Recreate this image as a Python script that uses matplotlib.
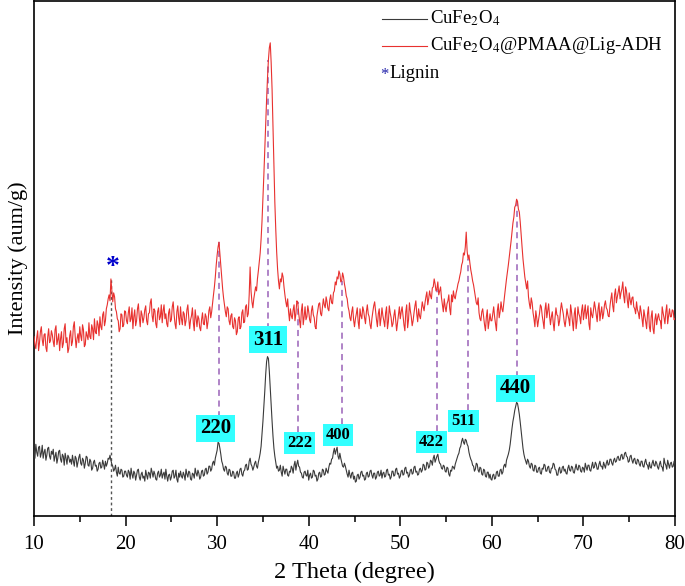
import numpy as np
import matplotlib
matplotlib.use('Agg')
import matplotlib.pyplot as plt

#--------------------------------------------------------------------------------------------------
# XRD patterns (2 theta from 10 to 80 in 0.1 degree steps, intensity in a.u.)
cufe2o4 = [
    66, 58, 72, 64, 60, 69, 70, 59, 63, 71, 58, 64, 67, 56, 61, 68, 69, 60, 57, 65,
    62, 67, 55, 60, 64, 53, 58, 65, 66, 57, 54, 62, 60, 51, 63, 58, 52, 61, 59, 54,
    57, 52, 61, 55, 50, 60, 58, 49, 54, 59, 62, 53, 51, 58, 56, 48, 53, 60, 59, 51,
    50, 57, 55, 46, 48, 54, 56, 50, 51, 45, 47, 53, 54, 48, 49, 56, 52, 47, 55, 50,
    53, 58, 57, 61, 56, 52, 50, 45, 47, 51, 44, 40, 49, 43, 42, 47, 46, 39, 40, 45,
    45, 41, 39, 46, 44, 37, 48, 42, 38, 45, 43, 36, 41, 46, 47, 39, 36, 42, 44, 38,
    40, 35, 46, 41, 37, 44, 43, 38, 48, 44, 39, 45, 42, 37, 36, 43, 45, 39, 41, 47,
    38, 42, 44, 37, 47, 40, 35, 41, 42, 36, 39, 45, 46, 38, 40, 46, 37, 34, 43, 39,
    45, 40, 38, 44, 41, 36, 47, 42, 39, 45, 44, 37, 36, 43, 42, 38, 48, 43, 40, 46,
    43, 37, 39, 45, 46, 40, 41, 47, 48, 42, 44, 50, 50, 45, 47, 53, 55, 51, 58, 62,
    66, 74, 73, 68, 62, 55, 52, 47, 45, 50, 49, 43, 41, 47, 46, 40, 40, 45, 44, 38,
    38, 43, 45, 39, 42, 47, 48, 42, 40, 45, 46, 51, 52, 46, 47, 55, 58, 52, 50, 46,
    49, 53, 55, 50, 48, 54, 58, 63, 70, 82, 95, 110, 125, 142, 155, 160, 158, 145, 128, 112,
    95, 80, 68, 60, 54, 48, 50, 45, 46, 51, 44, 40, 50, 46, 42, 47, 47, 41, 40, 45,
    44, 50, 48, 43, 51, 55, 46, 52, 56, 50, 49, 44, 43, 39, 38, 44, 45, 41, 40, 46,
    36, 41, 43, 38, 39, 46, 45, 40, 41, 35, 37, 43, 44, 39, 40, 47, 46, 41, 42, 48,
    45, 43, 49, 53, 52, 57, 58, 64, 68, 62, 66, 69, 60, 57, 63, 58, 54, 50, 49, 53,
    50, 46, 42, 39, 46, 41, 38, 43, 44, 37, 40, 34, 35, 41, 42, 37, 39, 44, 45, 40,
    41, 36, 37, 43, 44, 39, 40, 45, 46, 41, 38, 43, 43, 37, 39, 44, 45, 40, 41, 46,
    38, 43, 44, 39, 40, 46, 47, 41, 42, 37, 39, 45, 45, 40, 41, 47, 48, 42, 43, 38,
    40, 45, 46, 41, 42, 48, 49, 43, 44, 39, 41, 46, 47, 42, 43, 49, 50, 44, 45, 41,
    42, 47, 48, 44, 46, 52, 51, 46, 47, 54, 53, 48, 50, 56, 55, 51, 58, 61, 54, 57,
    60, 62, 56, 53, 52, 48, 47, 51, 50, 45, 44, 49, 48, 42, 40, 46, 45, 50, 49, 47,
    52, 55, 58, 61, 63, 68, 70, 75, 78, 74, 72, 77, 76, 72, 70, 64, 60, 57, 55, 51,
    50, 45, 47, 53, 52, 46, 44, 49, 48, 42, 41, 47, 46, 40, 39, 44, 44, 38, 42, 37,
    36, 41, 42, 37, 38, 44, 45, 40, 40, 46, 47, 42, 44, 50, 52, 49, 56, 59, 62, 66,
    72, 80, 88, 95, 100, 106, 110, 114, 113, 108, 102, 94, 85, 76, 68, 62, 58, 55, 52, 57,
    55, 50, 48, 53, 52, 46, 45, 51, 50, 44, 44, 48, 49, 43, 42, 48, 47, 52, 51, 45,
    45, 49, 50, 44, 43, 48, 48, 53, 52, 47, 46, 41, 41, 47, 49, 43, 44, 49, 50, 45,
    47, 43, 42, 48, 51, 46, 45, 50, 49, 44, 43, 48, 52, 47, 46, 51, 50, 45, 44, 49,
    48, 44, 53, 49, 46, 51, 51, 46, 45, 50, 54, 48, 49, 54, 52, 47, 47, 52, 55, 50,
    50, 47, 54, 51, 48, 53, 56, 51, 52, 57, 57, 53, 51, 56, 58, 54, 55, 59, 60, 56,
    56, 61, 62, 57, 58, 63, 64, 60, 59, 54, 55, 60, 61, 56, 53, 57, 58, 53, 52, 57,
    56, 52, 50, 55, 55, 50, 49, 54, 57, 52, 51, 47, 54, 49, 48, 53, 56, 51, 50, 55,
    53, 49, 47, 52, 55, 50, 49, 45, 58, 53, 51, 47, 56, 52, 48, 53, 54, 49, 50, 55,
    52]

composite = [
    180, 172, 168, 179, 186, 166, 174, 185, 190, 177, 171, 182, 183, 169, 165, 180, 188, 174, 176, 186,
    182, 175, 170, 187, 191, 172, 177, 183, 166, 178, 185, 169, 173, 188, 193, 174, 179, 164, 168, 181,
    186, 171, 175, 190, 195, 180, 169, 178, 183, 174, 190, 181, 176, 192, 187, 170, 172, 185, 181, 177,
    194, 180, 178, 192, 188, 177, 198, 185, 183, 196, 192, 181, 200, 190, 187, 202, 205, 191, 196, 208,
    212, 218, 222, 216, 238, 226, 215, 224, 220, 208, 205, 198, 196, 185, 188, 203, 202, 190, 192, 206,
    205, 196, 193, 204, 210, 195, 198, 209, 188, 200, 207, 191, 196, 208, 213, 199, 190, 206, 202, 194,
    199, 207, 211, 196, 192, 203, 204, 214, 218, 201, 195, 208, 206, 193, 189, 205, 209, 197, 200, 212,
    194, 206, 212, 198, 203, 193, 190, 204, 208, 195, 197, 210, 215, 202, 193, 188, 205, 211, 199, 192,
    210, 198, 192, 205, 203, 191, 196, 207, 212, 199, 188, 197, 201, 209, 194, 186, 207, 198, 190, 201,
    198, 189, 186, 197, 204, 193, 192, 203, 200, 188, 195, 206, 210, 199, 205, 214, 222, 230, 240, 252,
    262, 270, 275, 263, 250, 238, 228, 219, 212, 205, 200, 210, 208, 196, 192, 201, 203, 190, 188, 199,
    196, 182, 185, 198, 200, 188, 190, 204, 207, 194, 195, 210, 212, 200, 203, 222, 250, 226, 215, 209,
    218, 224, 230, 226, 238, 246, 255, 264, 278, 296, 318, 342, 368, 392, 418, 440, 458, 470, 475, 455,
    428, 390, 348, 315, 288, 265, 248, 236, 228, 238, 235, 244, 240, 230, 222, 215, 210, 218, 205, 196,
    208, 201, 198, 207, 212, 196, 203, 216, 215, 204, 196, 189, 206, 213, 192, 200, 210, 197, 200, 211,
    205, 197, 194, 206, 211, 202, 199, 190, 188, 201, 207, 213, 214, 203, 201, 210, 218, 212, 209, 220,
    215, 208, 206, 217, 222, 214, 213, 224, 226, 235, 232, 240, 238, 246, 243, 235, 236, 244, 240, 233,
    228, 221, 218, 210, 206, 199, 196, 205, 210, 197, 190, 198, 203, 209, 195, 188, 208, 201, 198, 210,
    206, 199, 193, 205, 212, 203, 200, 192, 188, 198, 205, 211, 215, 206, 197, 190, 203, 208, 191, 199,
    209, 201, 196, 190, 204, 210, 188, 195, 211, 204, 199, 190, 193, 201, 207, 196, 186, 194, 202, 210,
    198, 205, 210, 201, 192, 186, 205, 212, 189, 197, 214, 206, 200, 191, 196, 204, 211, 216, 203, 195,
    208, 201, 198, 207, 215, 210, 206, 214, 220, 225, 212, 218, 226, 221, 218, 229, 230, 238, 233, 226,
    228, 235, 222, 226, 230, 219, 212, 205, 218, 210, 205, 213, 216, 222, 208, 202, 222, 215, 226, 220,
    218, 224, 228, 233, 236, 241, 245, 252, 255, 264, 262, 270, 285, 266, 258, 262, 254, 247, 242, 236,
    232, 226, 220, 214, 212, 219, 204, 198, 196, 205, 208, 200, 192, 186, 200, 207, 188, 195, 203, 196,
    196, 203, 210, 200, 193, 186, 206, 213, 199, 205, 215, 208, 205, 214, 222, 230, 238, 245, 252, 260,
    268, 276, 285, 294, 300, 310, 312, 318, 316, 308, 305, 295, 282, 270, 258, 249, 240, 234, 228, 236,
    220, 213, 208, 219, 214, 204, 198, 190, 206, 199, 190, 197, 203, 212, 210, 201, 195, 188, 207, 214,
    199, 206, 213, 201, 192, 200, 205, 194, 186, 199, 209, 202, 201, 191, 196, 207, 214, 208, 203, 195,
    190, 198, 208, 202, 198, 191, 212, 205, 195, 186, 203, 209, 188, 196, 210, 203, 200, 193, 206, 212,
    197, 205, 212, 198, 204, 211, 193, 187, 209, 202, 199, 207, 215, 209, 202, 195, 208, 214, 196, 204,
    210, 198, 203, 212, 216, 209, 207, 201, 200, 211, 218, 224, 211, 205, 222, 228, 214, 220, 225, 231,
    218, 224, 228, 235, 221, 214, 230, 226, 216, 209, 224, 217, 212, 219, 220, 210, 208, 203, 215, 207,
    204, 198, 211, 205, 198, 190, 207, 201, 195, 188, 203, 210, 190, 185, 200, 206, 188, 183, 197, 203,
    192, 199, 203, 197, 196, 188, 210, 204, 199, 193, 205, 212, 193, 201, 208, 200, 200, 207, 206, 197,
    198]

# peak positions and Miller indices
peak_pos = [30.2, 35.6, 38.8, 43.6, 54.0, 57.4, 62.8]
hkl = ['220', '311', '222', '400', '422', '511', '440']
lignin_pos = 18.4

# where the index boxes sit (x in degree, y in a.u.) and their font size
label_x = [29.8, 35.55, 39.0, 43.2, 53.4, 56.9, 62.6]
label_y = [88, 177, 73, 81, 74, 95, 128]
label_size = [15, 15, 12, 12, 12, 12, 15]

#--------------------------------------------------------------------------------------------------
plt.rcParams['font.family'] = ['Liberation Serif', 'DejaVu Serif']
plt.rcParams['mathtext.fontset'] = 'stix'

fig = plt.figure(figsize=(6.85, 5.86), dpi=100)
ax = fig.add_axes([34/685, 1-516/586, 641/685, 515/586])

theta_b = np.linspace(10, 80, len(cufe2o4))
theta_r = np.linspace(10, 80, len(composite))
ax.plot(theta_b, cufe2o4, color='#3a3a3a', lw=0.8, zorder=3)
ax.plot(theta_r, composite, color='#e8312f', lw=0.8, zorder=3)

# dashed guides from the composite peaks down to the index boxes
dash_col = '#9a62b8'
for p, ly in zip(peak_pos, label_y):
    top = np.interp(p, theta_r, composite)
    ax.plot([p, p], [ly, top], color=dash_col, lw=1.1, ls=(0, (4, 3)), zorder=2)

# lignin peak: dotted line all the way down and a blue asterisk
ax.plot([lignin_pos, lignin_pos], [0, np.interp(lignin_pos, theta_r, composite)],
        color='#555555', lw=1.0, ls=(0, (2, 2)), zorder=2)
ax.text(lignin_pos + 0.2, 249, '*', color='#0000cc', fontsize=20, fontweight='bold',
        ha='center', va='center', zorder=5)

for lx, ly, t, fs in zip(label_x, label_y, hkl, label_size):
    ax.text(lx, ly, t, fontsize=fs, fontweight='bold', ha='center', va='center', zorder=6,
            bbox=dict(boxstyle='square,pad=0.18', fc='#33ffff', ec='none'))

# legend drawn by hand so the lignin entry can carry its own blue star
tr = ax.transAxes
ax.plot([0.543, 0.613], [0.966, 0.966], color='#3a3a3a', lw=0.8, transform=tr)
ax.text(0.618, 0.966, r'CuFe$_2$O$_4$', fontsize=13.5, va='center', transform=tr)
ax.plot([0.543, 0.613], [0.913, 0.913], color='#e8312f', lw=0.8, transform=tr)
ax.text(0.618, 0.913, r'CuFe$_2$O$_4$@PMAA@Lig-ADH', fontsize=13.5, va='center', transform=tr)
ax.text(0.540, 0.857, '*', color='#2020aa', fontsize=12, va='center', transform=tr)
ax.text(0.555, 0.860, 'Lignin', fontsize=13.5, va='center', transform=tr)

ax.set_xlim(10, 80)
ax.set_ylim(0, 517)
ax.set_xticks(np.arange(10, 81, 10))
ax.set_xticks(np.arange(15, 80, 10), minor=True)
ax.set_yticks([])
ax.tick_params(axis='x', which='major', length=7, width=1.1, labelsize=15, pad=7)
ax.tick_params(axis='x', which='minor', length=4, width=1.1)
for s in ax.spines.values():
    s.set_linewidth(1.2)
ax.set_xlabel('2 Theta (degree)', fontsize=17.5, labelpad=5)
ax.set_ylabel('Intensity (aum/g)', fontsize=16, labelpad=4)

fig.savefig('out.png', dpi=100)
